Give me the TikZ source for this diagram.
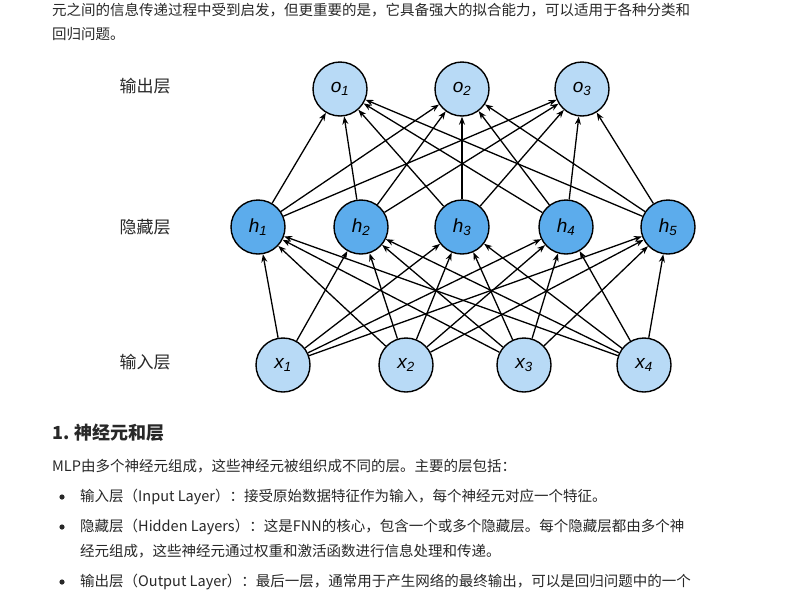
\documentclass[tikz,border=0pt]{standalone}
\usepackage{fontspec}
\setmainfont{Noto Sans CJK SC}
\setsansfont{Liberation Sans}
\usetikzlibrary{arrows.meta}
\definecolor{lightnode}{RGB}{184,218,246}
\definecolor{darknode}{RGB}{92,172,236}
\definecolor{bodytext}{RGB}{40,40,40}
\tikzset{
  neuron/.style={circle, draw=black, line width=1.4pt, minimum size=54pt, inner sep=0pt, font=\fontsize{19}{19}\sffamily\itshape},
  io/.style={neuron, fill=lightnode},
  hid/.style={neuron, fill=darknode},
  link/.style={-{Stealth[length=8pt,width=6pt]}, line width=1.3pt},
  txt/.style={anchor=west, inner sep=0pt, text=bodytext, font=\fontsize{14.5}{17}\selectfont},
  layer/.style={text=bodytext, font=\fontsize{17}{17}\selectfont}
}
\begin{document}
\begin{tikzpicture}[x=1pt,y=-1pt]
\useasboundingbox[fill=white] (0,0) rectangle (800,600);
% text above
\node[txt] (t1) at (52,10) {元之间的信息传递过程中受到启发，但更重要的是，它具备强大的拟合能力，可以适用于各种分类和};
\node[txt] (t2) at (52,34) {回归问题。};
% layer labels
\node[layer] (lo) at (145,86) {输出层};
\node[layer] (lh) at (145,227) {隐藏层};
\node[layer] (li) at (145,362) {输入层};
% neurons
\foreach \n/\x in {1/340,2/462,3/582} \node[io] (o\n) at (\x,89) {o\textsubscript{\n}};
\foreach \n/\x in {1/258,2/361,3/462,4/566,5/668} \node[hid] (h\n) at (\x,227) {h\textsubscript{\n}};
\foreach \n/\x in {1/283,2/406,3/524,4/644} \node[io] (x\n) at (\x,365) {x\textsubscript{\n}};
% connections
\foreach \i in {1,...,4} \foreach \j in {1,...,5} \draw[link] (x\i) -- (h\j);
\foreach \j in {1,...,5} \foreach \k in {1,2,3} \draw[link] (h\j) -- (o\k);
% text below
\node[txt, font=\fontsize{18}{20}\bfseries] (sec) at (52,433) {1. 神经元和层};
\node[txt] (p1) at (52,466) {MLP由多个神经元组成，这些神经元被组织成不同的层。主要的层包括：};
\foreach \y in {497,527,582} \fill[bodytext] (62,\y) circle (2.6pt);
\node[txt] (b1) at (80,497) {输入层（Input Layer）：接受原始数据特征作为输入，每个神经元对应一个特征。};
\node[txt] (b2) at (80,527) {隐藏层（Hidden Layers）：这是FNN的核心，包含一个或多个隐藏层。每个隐藏层都由多个神};
\node[txt] (b3) at (80,551) {经元组成，这些神经元通过权重和激活函数进行信息处理和传递。};
\node[txt] (b4) at (80,582) {输出层（Output Layer）：最后一层，通常用于产生网络的最终输出，可以是回归问题中的一个};
\end{tikzpicture}
\end{document}
